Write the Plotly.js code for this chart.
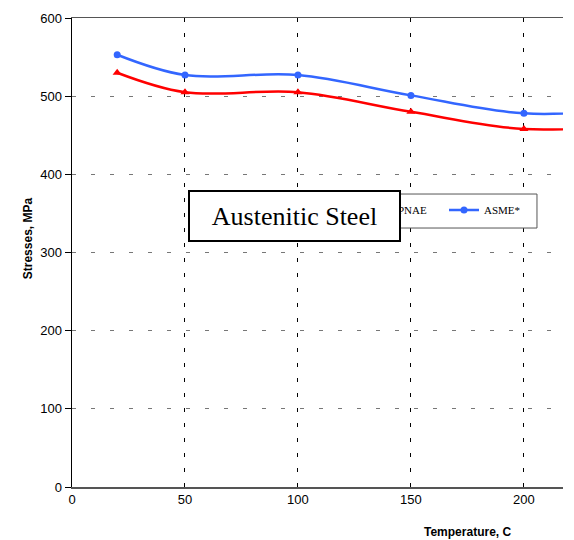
<!DOCTYPE html>
<html>
<head>
<meta charset="utf-8">
<script src="https://cdn.plot.ly/plotly-3.0.1.min.js"></script>
<style>html,body{margin:0;padding:0;background:#fff;}#chart{width:574px;height:540px;}</style>
</head>
<body>
<div id="chart"></div>
<script>
const temperatures = [20, 50, 100, 150, 200, 250];
const pnaeStress = [530, 505, 505, 480, 458, 464];
const asmeStress = [553, 527, 527, 501, 478, 484];
const seriesNames = ["PNAE", "ASME*"];
const xTicks = [0, 50, 100, 150, 200];
const yTicks = [0, 100, 200, 300, 400, 500, 600];

const traces = [
  {
    x: temperatures, y: pnaeStress, name: seriesNames[0],
    mode: "lines+markers", type: "scatter",
    line: {color: "#ff0000", width: 2.5, shape: "spline", smoothing: 1},
    marker: {symbol: "triangle-up", size: 8, color: "#ff0000"}
  },
  {
    x: temperatures, y: asmeStress, name: seriesNames[1],
    mode: "lines+markers", type: "scatter",
    line: {color: "#3366ff", width: 2.5, shape: "spline", smoothing: 1},
    marker: {symbol: "circle", size: 7, color: "#3366ff"}
  }
];

const layout = {
  width: 574, height: 540,
  margin: {l: 72, r: 11, t: 18, b: 53},
  paper_bgcolor: "#fff", plot_bgcolor: "#fff",
  font: {family: "Liberation Sans, Arial, sans-serif", size: 13, color: "#000"},
  showlegend: true,
  legend: {
    orientation: "h", x: 0.9328, xanchor: "right", y: 0.6215, yanchor: "top",
    entrywidth: 41, entrywidthmode: "pixels",
    bgcolor: "rgba(0,0,0,0)", borderwidth: 0,
    font: {family: "Liberation Serif, Times New Roman, serif", size: 11, color: "#000"}
  },
  shapes: [
    {
      type: "rect", xref: "paper", yref: "paper",
      x0: 0.627, x1: 0.947, y0: 0.5522, y1: 0.6247,
      fillcolor: "#fff", line: {color: "#555", width: 1}, layer: "above"
    }
  ],
  xaxis: {
    range: [0, 217.3], tickvals: xTicks, ticktext: xTicks.map(String),
    showline: true, linecolor: "#555", linewidth: 1.5, mirror: true,
    showgrid: true, gridcolor: "#000", gridwidth: 1, griddash: "4px,11px",
    zeroline: false, ticks: "", tickfont: {size: 13}, fixedrange: true
  },
  yaxis: {
    range: [0, 600], tickvals: yTicks, ticktext: yTicks.map(String),
    showline: true, linecolor: "#000", linewidth: 1.5,
    showgrid: true, gridcolor: "#777", gridwidth: 1, griddash: "4px,15px",
    zeroline: false, ticks: "outside", ticklen: 6, tickcolor: "#000",
    tickfont: {size: 13}, fixedrange: true
  },
  annotations: [
    {
      text: "Austenitic Steel", xref: "paper", yref: "paper",
      x: 0.453, y: 0.578, xanchor: "center", yanchor: "middle",
      showarrow: false, width: 209, height: 48,
      bgcolor: "#fff", bordercolor: "#000", borderwidth: 2, borderpad: 0,
      font: {family: "Liberation Serif, Times New Roman, serif", size: 26, color: "#000"}
    },
    {
      text: "<b>Stresses, MPa</b>", xref: "paper", yref: "paper",
      x: -0.088, y: 0.53, xanchor: "center", yanchor: "middle", textangle: -90,
      showarrow: false, font: {size: 12, color: "#000"}
    },
    {
      text: "<b>Temperature, C</b>", xref: "paper", yref: "paper",
      x: 0.806, y: -0.095, xanchor: "center", yanchor: "middle",
      showarrow: false, font: {size: 12, color: "#000"}
    }
  ]
};

Plotly.newPlot("chart", traces, layout, {displayModeBar: false, staticPlot: true});
</script>
</body>
</html>
